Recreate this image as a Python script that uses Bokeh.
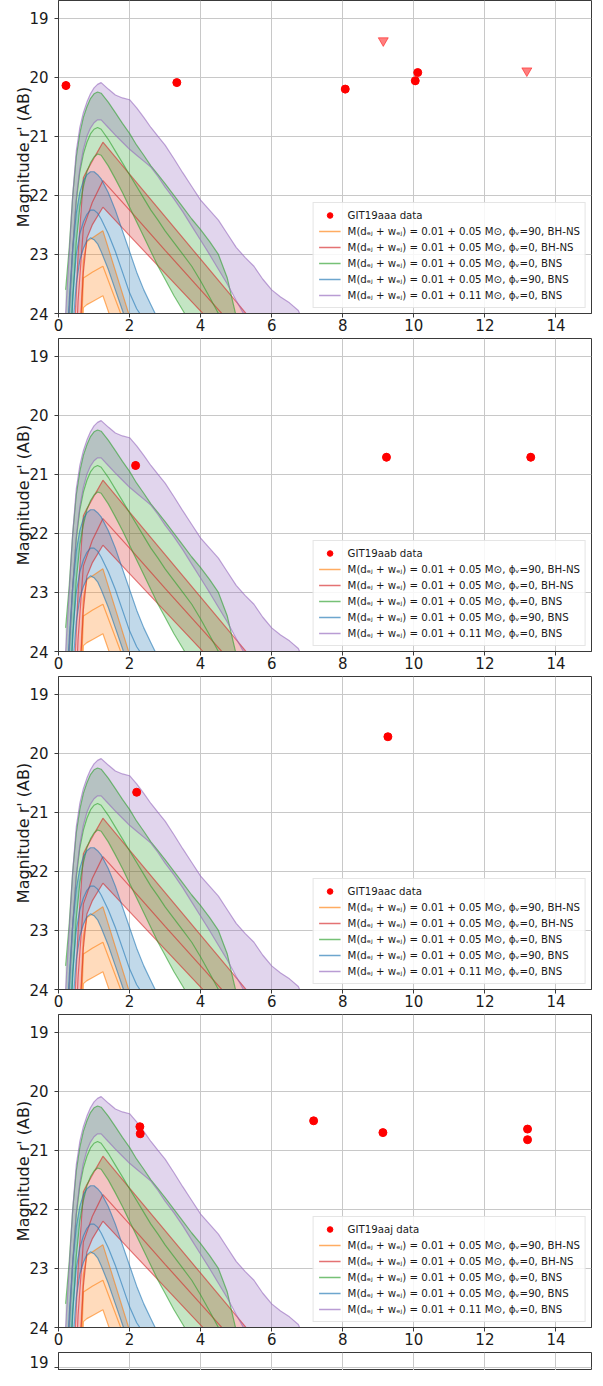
from bokeh.plotting import figure
from bokeh.layouts import column
from bokeh.models import Range1d, Legend, LegendItem, FixedTicker
from bokeh.embed import file_html
from bokeh.resources import INLINE

FONT = "DejaVu Sans"
NAN = float("nan")

# ---------------- axis ticks ----------------
x_ticks = [0, 2, 4, 6, 8, 10, 12, 14]
y_ticks = [19, 20, 21, 22, 23, 24]
y_label = "Magnitude r' (AB)"

# ---------------- model light curves (mag vs days) ----------------
# BH-NS, phi_v = 90 (orange)
orange_t = [0.45, 0.55, 0.7, 0.8, 0.95, 1.25, 2.0]
orange_upper = [27.0, 25.0, 23.1, 22.78, 22.72, 22.6, 24.05]
orange_mid = [27.5, 26.0, 23.4, 23.36, 23.3, 23.2, 24.4]
orange_lower = [28.0, 26.5, 23.9, 23.85, 23.8, 23.7, 25.0]

# BH-NS, phi_v = 0 (red)
red_t = [0.45, 0.55, 0.7, 0.8, 0.95, 1.25, 2.0, 3.0, 4.0, 5.0, 6.0]
red_upper = [24.3, 23.0, 21.7, 21.58, 21.42, 21.1, 21.64, 22.36, 23.08, 23.8, 24.52]
red_mid = [25.2, 23.8, 22.55, 22.38, 22.12, 21.75, 22.25, 22.93, 23.6, 24.27, 24.95]
red_lower = [26.5, 25.0, 23.3, 22.72, 22.5, 22.2, 22.68, 23.32, 23.96, 24.6, 25.24]

# BNS, phi_v = 0, 0.05 (green)
green_t = [0.2, 0.3, 0.4, 0.5, 0.6, 0.7, 0.8, 0.9, 1.0, 1.1, 1.2, 1.4, 1.6, 1.8,
           2.0, 2.2, 2.4, 2.6, 2.8, 3.0, 3.25, 3.5, 3.75, 4.0, 4.25, 4.5, 4.75, 5.0]
green_upper = [23.6, 22.9, 22.0, 21.35, 20.95, 20.68, 20.5, 20.36, 20.28, 20.25, 20.27,
               20.42, 20.6, 20.78, 20.95, 21.15, 21.32, 21.5, 21.65, 21.8, 22.0, 22.2,
               22.4, 22.58, 22.78, 23.0, 23.4, 24.05]
green_mid = [25.0, 24.0, 22.9, 22.1, 21.6, 21.3, 21.1, 20.96, 20.88, 20.85, 20.88,
             21.05, 21.25, 21.45, 21.65, 21.85, 22.05, 22.25, 22.42, 22.6, 22.8, 23.0,
             23.2, 23.45, 23.72, 24.0, 24.4, 24.8]
green_lower = [26.0, 25.0, 23.8, 22.8, 22.2, 21.85, 21.6, 21.45, 21.35, 21.3, 21.32,
               21.5, 21.72, 21.95, 22.2, 22.45, 22.7, 22.95, 23.2, 23.42, 23.7, 23.95,
               24.2, 24.5, 24.8, 25.1, 25.4, 25.7]

# BNS, phi_v = 90 (blue)
blue_t = [0.2, 0.3, 0.4, 0.5, 0.6, 0.7, 0.8, 0.9, 1.0, 1.1, 1.2, 1.4, 1.6, 1.8,
          2.0, 2.2, 2.4, 2.6, 2.8]
blue_upper = [25.0, 23.8, 22.9, 22.3, 21.95, 21.75, 21.65, 21.6, 21.6, 21.65, 21.72,
              21.95, 22.25, 22.6, 22.95, 23.3, 23.6, 23.85, 24.1]
blue_mid = [25.5, 25.0, 23.7, 23.0, 22.65, 22.45, 22.32, 22.25, 22.25, 22.3, 22.4,
            22.65, 22.95, 23.3, 23.65, 23.92, 24.1, 24.3, 24.5]
blue_lower = [26.0, 25.5, 24.3, 23.5, 23.1, 22.9, 22.77, 22.72, 22.75, 22.82, 22.95,
              23.25, 23.6, 23.95, 24.3, 24.6, 24.9, 25.2, 25.5]

# BNS, phi_v = 0, 0.11 (purple)
purple_t = [0.2, 0.3, 0.4, 0.5, 0.6, 0.7, 0.8, 0.9, 1.0, 1.1, 1.2, 1.4, 1.6, 1.8,
            2.0, 2.2, 2.4, 2.6, 2.8, 3.0, 3.25, 3.5, 3.75, 4.0, 4.25, 4.5, 4.75, 5.0,
            5.25, 5.5, 5.75, 6.0, 6.25, 6.5, 6.75, 7.0]
purple_upper = [24.0, 23.0, 22.0, 21.25, 20.85, 20.6, 20.42, 20.28, 20.18, 20.12, 20.09,
                20.2, 20.3, 20.35, 20.38, 20.52, 20.68, 20.85, 21.0, 21.15, 21.38, 21.62,
                21.85, 22.08, 22.25, 22.42, 22.65, 22.88, 23.05, 23.2, 23.42, 23.6,
                23.72, 23.82, 23.95, 24.3]
purple_lower = [25.5, 24.0, 22.9, 22.05, 21.55, 21.22, 21.0, 20.86, 20.77, 20.72, 20.72,
                20.85, 20.98, 21.1, 21.22, 21.32, 21.42, 21.52, 21.68, 21.86, 22.06,
                22.28, 22.52, 22.76, 23.0, 23.25, 23.5, 23.78, 24.05, 24.3, 24.6, 24.9,
                25.2, 25.5, 25.8, 26.1]

model_labels = [
    "M(d\u2091\u2c7c + w\u2091\u2c7c) = 0.01 + 0.05 M\u2299, \u03d5\u1d65=90, BH-NS",
    "M(d\u2091\u2c7c + w\u2091\u2c7c) = 0.01 + 0.05 M\u2299, \u03d5\u1d65=0, BH-NS",
    "M(d\u2091\u2c7c + w\u2091\u2c7c) = 0.01 + 0.05 M\u2299, \u03d5\u1d65=0, BNS",
    "M(d\u2091\u2c7c + w\u2091\u2c7c) = 0.01 + 0.05 M\u2299, \u03d5\u1d65=90, BNS",
    "M(d\u2091\u2c7c + w\u2091\u2c7c) = 0.01 + 0.11 M\u2299, \u03d5\u1d65=0, BNS",
]
model_colors = ["#ff7f0e", "#d62728", "#2ca02c", "#1f77b4", "#9467bd"]

# ---------------- observed data per transient ----------------
aaa_name = "GIT19aaa data"
aaa_t = [0.21, 3.33, 8.07, 10.04, 10.11]
aaa_mag = [20.14, 20.09, 20.2, 20.06, 19.92]
aaa_err = [0.07, 0.06, 0.07, 0.07, 0.06]
aaa_lim_t = [9.14, 13.18]
aaa_lim_mag = [19.38, 19.89]

aab_name = "GIT19aab data"
aab_t = [2.17, 9.23, 13.29]
aab_mag = [20.85, 20.71, 20.71]
aab_err = [0.07, 0.07, 0.07]

aac_name = "GIT19aac data"
aac_t = [2.2, 9.27]
aac_mag = [20.66, 19.72]
aac_err = [0.05, 0.04]

aaj_name = "GIT19aaj data"
aaj_t = [2.29, 2.3, 7.18, 9.13, 13.2, 13.2]
aaj_mag = [20.6, 20.72, 20.5, 20.7, 20.64, 20.82]
aaj_err = [0.06, 0.06, 0.06, 0.06, 0.06, 0.06]

W = 593
H = 338


def base_fig(height, y_bottom, show_x=True, show_label=True):
    p = figure(width=W, height=height, x_range=Range1d(0, 15),
               y_range=Range1d(y_bottom, 18.7), output_backend="svg",
               toolbar_location=None, min_border_left=58, min_border_right=2,
               min_border_top=0, min_border_bottom=(25 if show_x else 0))
    p.outline_line_color = "#3a3a3a"
    p.outline_line_width = 1
    p.background_fill_color = "white"
    p.border_fill_color = "white"
    for ax in (p.xaxis[0], p.yaxis[0]):
        ax.axis_line_color = "#3a3a3a"
        ax.major_tick_line_color = "#3a3a3a"
        ax.minor_tick_line_color = None
        ax.major_tick_out = 4
        ax.major_tick_in = 0
        ax.major_label_text_font = FONT
        ax.major_label_text_font_size = "15px"
        ax.major_label_text_color = "#1a1a1a"
    p.xaxis.ticker = FixedTicker(ticks=x_ticks)
    p.yaxis.ticker = FixedTicker(ticks=y_ticks)
    p.xgrid.ticker = FixedTicker(ticks=x_ticks)
    p.ygrid.ticker = FixedTicker(ticks=y_ticks)
    p.xaxis.major_label_standoff = 1
    p.yaxis.major_label_standoff = 6
    p.xgrid.grid_line_color = "#c8c8c8"
    p.ygrid.grid_line_color = "#c8c8c8"
    if show_label:
        p.yaxis.axis_label = y_label
        p.yaxis.axis_label_text_font = FONT
        p.yaxis.axis_label_text_font_size = "16px"
        p.yaxis.axis_label_text_font_style = "normal"
        p.yaxis.axis_label_text_color = "#1a1a1a"
        p.yaxis.axis_label_standoff = -7
    if not show_x:
        p.xaxis.visible = False
    return p


def add_models(p):
    models = [
        (orange_t, orange_upper, orange_mid, orange_lower),
        (red_t, red_upper, red_mid, red_lower),
        (green_t, green_upper, green_mid, green_lower),
        (blue_t, blue_upper, blue_mid, blue_lower),
        (purple_t, purple_upper, None, purple_lower),
    ]
    for (t, up, mid, lo), c in zip(models, model_colors):
        p.varea(x=t, y1=up, y2=lo, fill_color=c, fill_alpha=0.28)
    for (t, up, mid, lo), c in zip(models, model_colors):
        p.line(t, up, line_color=c, line_alpha=0.6, line_width=1.2)
        if mid is not None:
            p.line(t, mid, line_color=c, line_alpha=0.6, line_width=1.2)
        p.line(t, lo, line_color=c, line_alpha=0.6, line_width=1.2)
    # legend keys: lines with no drawable point
    keys = [p.line(x=[NAN, NAN], y=[NAN, NAN], line_color=c, line_alpha=0.65,
                   line_width=1.5) for c in model_colors]
    return keys


def data_panel(name, t, mag, err, lim_t=None, lim_mag=None):
    p = base_fig(H, 24)
    keys = add_models(p)
    p.segment(x0=t, y0=[m - e for m, e in zip(mag, err)],
              x1=t, y1=[m + e for m, e in zip(mag, err)],
              line_color="red", line_width=2)
    r_data = p.scatter(t, mag, size=8, marker="circle", fill_color="red",
                       line_color="red")
    if lim_t:
        p.scatter(lim_t, lim_mag, size=10, marker="inverted_triangle",
                  fill_color="red", line_color="red", fill_alpha=0.5, line_alpha=0.5)
    items = [LegendItem(label=name, renderers=[r_data])]
    for lab, r in zip(model_labels, keys):
        items.append(LegendItem(label=lab, renderers=[r]))
    leg = Legend(items=items, location="bottom_right")
    leg.label_text_font = FONT
    leg.label_text_font_size = "10.2px"
    leg.label_text_color = "#1a1a1a"
    leg.glyph_height = 14
    leg.glyph_width = 22
    leg.label_height = 14
    leg.label_standoff = 7
    leg.spacing = 2
    leg.padding = 5
    leg.margin = 5
    leg.border_line_color = "#cccccc"
    leg.background_fill_alpha = 0.85
    p.add_layout(leg)
    return p


p1 = data_panel(aaa_name, aaa_t, aaa_mag, aaa_err, aaa_lim_t, aaa_lim_mag)
p2 = data_panel(aab_name, aab_t, aab_mag, aab_err)
p3 = data_panel(aac_name, aac_t, aac_mag, aac_err)
p4 = data_panel(aaj_name, aaj_t, aaj_mag, aaj_err)
p5 = base_fig(18, 19.06, show_x=False, show_label=False)

layout = column(p1, p2, p3, p4, p5, spacing=0)
open("out.html", "w").write(file_html(layout, INLINE))
